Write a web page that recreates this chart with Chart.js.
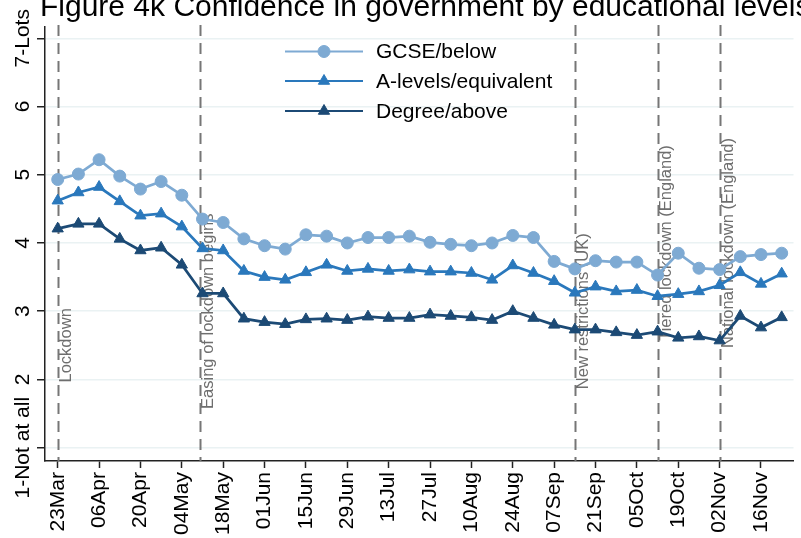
<!DOCTYPE html>
<html>
<head>
<meta charset="utf-8">
<script src="https://cdn.jsdelivr.net/npm/chart.js@4.4.1/dist/chart.umd.min.js"></script>
<style>
html,body{margin:0;padding:0;background:#fff;}
#wrap{width:801px;height:538px;position:relative;}
</style>
</head>
<body>
<div id="wrap"><canvas id="c" width="801" height="538"></canvas></div>
<script>
// ---- Data ----
const titleText = 'Figure 4k Confidence in government by educational levels';
const seriesNames = ['GCSE/below', 'A-levels/equivalent', 'Degree/above'];
// days since 23 March 2020 for each weekly survey point
const weekDays = [0,7,14,21,28,35,42,49,56,63,70,77,84,91,98,105,112,119,126,133,140,147,154,161,168,175,182,189,196,203,210,217,224,231,238,245];
const gcse = [4.93,5.01,5.22,4.98,4.79,4.90,4.70,4.35,4.30,4.06,3.96,3.91,4.12,4.10,4.00,4.08,4.08,4.10,4.01,3.98,3.96,4.00,4.11,4.08,3.73,3.62,3.74,3.72,3.72,3.53,3.85,3.63,3.61,3.80,3.83,3.85];
const alevels = [4.62,4.74,4.82,4.61,4.40,4.43,4.24,3.92,3.89,3.59,3.50,3.46,3.57,3.68,3.59,3.62,3.59,3.61,3.58,3.58,3.56,3.46,3.67,3.56,3.44,3.27,3.36,3.29,3.31,3.22,3.25,3.29,3.38,3.57,3.40,3.55];
const degree = [4.21,4.28,4.28,4.06,3.89,3.93,3.68,3.26,3.26,2.89,2.84,2.81,2.88,2.89,2.87,2.92,2.90,2.90,2.95,2.93,2.91,2.87,3.00,2.90,2.80,2.73,2.73,2.69,2.65,2.70,2.61,2.63,2.57,2.93,2.76,2.91];
const xTickDays = [0,14,28,42,56,70,84,98,112,126,140,154,168,182,196,210,224,238];
const xTickLabels = ['23Mar','06Apr','20Apr','04May','18May','01Jun','15Jun','29Jun','13Jul','27Jul','10Aug','24Aug','07Sep','21Sep','05Oct','19Oct','02Nov','16Nov'];
const yTickValues = [1,2,3,4,5,6,7];
const yTickLabels = ['1-Not at all','2','3','4','5','6','7-Lots'];
const eventDays = [0, 48, 175, 203, 224];
const eventLabels = ['Lockdown', 'Easing of lockdown begins', 'New restrictions (UK)', 'Tiered lockdown (England)', 'National lockdown (England)'];
const eventLabelY = [2.5, 3, 3, 4, 4];

// ---- Styles ----
const FONT = "'Liberation Sans', Arial, sans-serif";
const colors = ['#7EAAD3', '#2A78BC', '#1C4A75'];
const pointStyles = ['circle', 'triangle', 'triangle'];

function pts(vals){ return vals.map((v,i)=>({x: weekDays[i], y: v})); }

const titlePlugin = {
  id: 'titleText',
  afterDraw(chart){
    const ctx = chart.ctx;
    ctx.save();
    ctx.fillStyle = '#000';
    ctx.font = '30px ' + FONT;
    ctx.textAlign = 'left';
    ctx.textBaseline = 'alphabetic';
    ctx.fillText(titleText, 40, 16);
    ctx.restore();
  }
};

const eventPlugin = {
  id: 'events',
  beforeDatasetsDraw(chart){
    const ctx = chart.ctx, xs = chart.scales.x, ys = chart.scales.y, a = chart.chartArea;
    ctx.save();
    eventDays.forEach((d,i)=>{
      const px = Math.round(xs.getPixelForValue(d)) + 0.5;
      ctx.strokeStyle = '#767676';
      ctx.lineWidth = 2;
      ctx.setLineDash([11,7]);
      ctx.beginPath();
      ctx.moveTo(px, a.top - 2);
      ctx.lineTo(px, a.bottom);
      ctx.stroke();
      ctx.setLineDash([]);
      ctx.save();
      ctx.translate(px + 12.5, ys.getPixelForValue(eventLabelY[i]));
      ctx.rotate(-Math.PI/2);
      ctx.fillStyle = '#6e6e6e';
      ctx.font = '16.5px ' + FONT;
      ctx.textAlign = 'center';
      ctx.textBaseline = 'alphabetic';
      ctx.fillText(eventLabels[i], 0, 0);
      ctx.restore();
    });
    ctx.restore();
  }
};

const yLabelPlugin = {
  id: 'ylabels',
  afterDraw(chart){
    const ctx = chart.ctx, ys = chart.scales.y;
    ctx.save();
    ctx.fillStyle = '#000';
    ctx.font = '21px ' + FONT;
    ctx.textAlign = 'center';
    ctx.textBaseline = 'alphabetic';
    yTickValues.forEach((v,i)=>{
      ctx.save();
      ctx.translate(29, ys.getPixelForValue(v));
      ctx.rotate(-Math.PI/2);
      ctx.fillText(yTickLabels[i], 0, 0);
      ctx.restore();
    });
    ctx.restore();
  }
};

const legendPlugin = {
  id: 'customLegend',
  afterDatasetsDraw(chart){
    const ctx = chart.ctx;
    const x0 = 285, x1 = 363, tx = 376, rows = [51.5, 81, 111];
    ctx.save();
    chart.data.datasets.forEach((ds,i)=>{
      const y = rows[i];
      ctx.strokeStyle = ds.borderColor;
      ctx.lineWidth = 2;
      ctx.beginPath(); ctx.moveTo(x0, y); ctx.lineTo(x1, y); ctx.stroke();
      ctx.fillStyle = ds.pointBackgroundColor;
      ctx.strokeStyle = ds.borderColor;
      ctx.lineWidth = 1;
      Chart.helpers.drawPoint(ctx, {pointStyle: ds.pointStyle, radius: ds.pointRadius, borderWidth: 1, rotation: 0}, (x0+x1)/2, y);
      ctx.fillStyle = '#000';
      ctx.font = '21px ' + FONT;
      ctx.textAlign = 'left';
      ctx.textBaseline = 'middle';
      ctx.fillText(ds.label, tx, y + 1);
    });
    ctx.restore();
  }
};

const datasets = [gcse, alevels, degree].map((vals,i)=>({
  label: seriesNames[i],
  data: pts(vals),
  borderColor: colors[i],
  backgroundColor: colors[i],
  pointBackgroundColor: colors[i],
  pointBorderColor: colors[i],
  pointStyle: pointStyles[i],
  pointRadius: i === 0 ? 6 : 6.5,
  pointBorderWidth: 1,
  borderWidth: 2.75,
  tension: 0,
  fill: false
}));

new Chart(document.getElementById('c'), {
  type: 'line',
  data: { datasets },
  options: {
    responsive: false,
    animation: false,
    devicePixelRatio: 1,
    layout: { padding: { top: 27, right: 4, left: 0, bottom: 0 } },
    plugins: { legend: { display: false }, title: { display: false }, tooltip: { enabled: false } },
    scales: {
      x: {
        type: 'linear',
        min: -4.3,
        max: 249,
        afterBuildTicks(scale){ scale.ticks = xTickDays.map(v=>({value: v})); },
        afterFit(scale){ scale.height = 77; },
        grid: { drawOnChartArea: false, drawTicks: true, tickLength: 7, tickColor: '#222', tickWidth: 1.5 },
        border: { display: true, color: '#222', width: 1.5 },
        ticks: {
          autoSkip: false,
          minRotation: 90,
          maxRotation: 90,
          padding: 4,
          color: '#000',
          font: { family: FONT, size: 21 },
          callback(value, index){ return xTickLabels[index]; }
        }
      },
      y: {
        type: 'linear',
        min: 0.805,
        max: 7.165,
        afterBuildTicks(scale){ scale.ticks = yTickValues.map(v=>({value: v})); },
        afterFit(scale){ scale.width = 45; },
        grid: { color: '#EAF2F3', lineWidth: 1.5, drawTicks: true, tickLength: 8, tickColor: '#222', tickWidth: 1.5 },
        border: { display: true, color: '#222', width: 1.5 },
        ticks: { color: 'rgba(0,0,0,0)', font: { family: FONT, size: 12 }, callback(){ return ''; } }
      }
    }
  },
  plugins: [titlePlugin, eventPlugin, yLabelPlugin, legendPlugin]
});
</script>
</body>
</html>
